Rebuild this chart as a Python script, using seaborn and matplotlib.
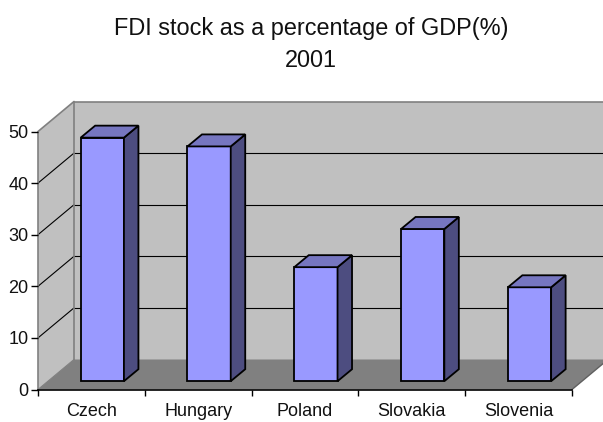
import matplotlib
matplotlib.use('Agg')
import matplotlib.pyplot as plt
from matplotlib.patches import Polygon
from matplotlib.ticker import FixedLocator
from matplotlib.transforms import Affine2D, IdentityTransform
import seaborn as sns

countries = ['Czech', 'Hungary', 'Poland', 'Slovakia', 'Slovenia']
fdi_stock = [47.2, 45.5, 22.1, 29.5, 18.2]
y_ticks = [0, 10, 20, 30, 40, 50]
title = 'FDI stock as a percentage of GDP(%)\n2001'

W, H = 603, 422
# depth of the fake 3d box, in pixels
wall_dx, wall_dy = 36, 30
bar_dx, bar_dy = 14.5, 12
inset_dx, inset_dy = 10.9, 8.3

sns.set_style('white')
plt.rcParams['font.family'] = ['Liberation Sans', 'DejaVu Sans']

fig = plt.figure(figsize=(W / 100, H / 100), dpi=100)
ax = fig.add_axes([38 / W, (H - 389.5) / H, 534 / W, 258 / H])
ax.patch.set_visible(False)

sns.barplot(x=countries, y=fdi_stock, color='#9999ff', saturation=1, width=0.405,
            edgecolor='black', linewidth=1.3, ax=ax, zorder=5)
ax.set_xlim(-0.5, 4.5)
ax.set_ylim(0, 50)
ax.set_yticks(y_ticks)
ax.xaxis.set_minor_locator(FixedLocator([i - 0.5 for i in range(len(countries) + 1)]))
ax.tick_params(axis='x', which='major', length=0, labelsize=13, pad=10, labelcolor='#111111')
ax.tick_params(axis='x', which='minor', length=4, width=1, color='black', bottom=True)
ax.tick_params(axis='y', length=5, width=1, color='black', left=True, labelsize=13, pad=2, labelcolor='#111111')
sns.despine(ax=ax, left=True, top=True, right=True)
ax.spines['bottom'].set_linewidth(1.2)
ax.spines['bottom'].set_color('black')
ax.spines['bottom'].set_zorder(4)


def px(x, y):
    return ax.transData.transform((x, y))


def add_poly(points, face, edge='none', lw=0, z=1):
    fig.add_artist(Polygon(points, closed=True, facecolor=face, edgecolor=edge, linewidth=lw,
                           transform=IdentityTransform(), zorder=z, joinstyle='miter'))


def add_line(p0, p1, color, lw, z=1.5):
    fig.add_artist(plt.Line2D([p0[0], p1[0]], [p0[1], p1[1]], color=color, linewidth=lw,
                              transform=IdentityTransform(), zorder=z))


fig.patch.set_zorder(-1)
ax.set_zorder(3)
x0, x1 = ax.get_xlim()
fl, fr, tl, tr = px(x0, 0), px(x1, 0), px(x0, 50), px(x1, 50)
d = (wall_dx, wall_dy)

# walls and floor
add_poly([tl + d, tr + d, fr + d, fl + d], '#c0c0c0')
add_poly([fl, fl + d, tl + d, tl], '#c0c0c0')
add_poly([fl, fr, fr + d, fl + d], '#808080')

for v in y_ticks[1:-1]:
    p = px(x0, v)
    q = px(x1, v)
    add_line(p, p + d, 'black', 0.8)
    add_line(p + d, q + d, 'black', 0.8)

add_line(tl, tl + d, '#808080', 1.2)
add_line(tl + d, tr + d, '#808080', 1.2)
add_line(fl + d, tl + d, '#808080', 1.2)
add_line(fl, tl, '#808080', 1.2)
add_line(fl, fl + d, '#808080', 0.8)
add_line(fr, fr + d, '#606060', 1.0)

# move the bars into the box and give them a side and a top
shift = Affine2D().translate(inset_dx, inset_dy)
for bar in list(ax.patches):
    bar.set_transform(ax.transData + shift)
    bar.set_clip_on(False)
    l, b = px(bar.get_x(), bar.get_y()) + (inset_dx, inset_dy)
    r, t = px(bar.get_x() + bar.get_width(), bar.get_y() + bar.get_height()) + (inset_dx, inset_dy)
    for pts, col in [([(r, b), (r + bar_dx, b + bar_dy), (r + bar_dx, t + bar_dy), (r, t)], '#4d4d80'),
                     ([(l, t), (l + bar_dx, t + bar_dy), (r + bar_dx, t + bar_dy), (r, t)], '#7676c0')]:
        ax.add_patch(Polygon(pts, closed=True, facecolor=col, edgecolor='black', linewidth=1.3,
                             transform=IdentityTransform(), clip_on=False, zorder=5, joinstyle='miter'))

fig.text(311 / W, (H - 44.5) / H, title, ha='center', va='center', fontsize=16.9, color='#111111',
         linespacing=1.5)

fig.savefig('out.png', dpi=100)
